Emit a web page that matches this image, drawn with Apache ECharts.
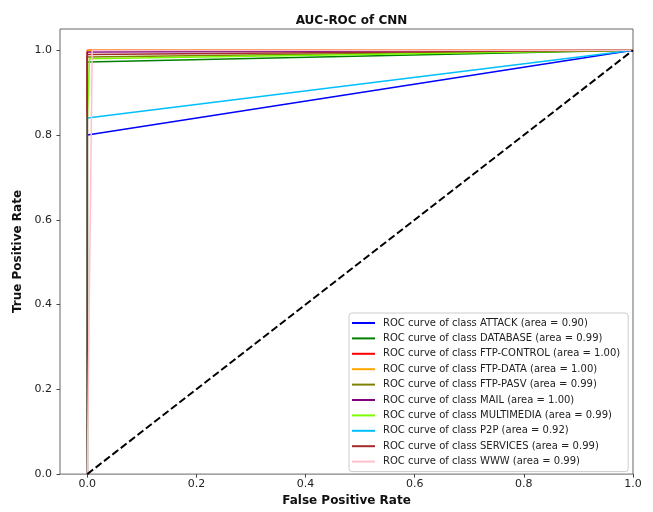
<!DOCTYPE html>
<html>
<head>
<meta charset="utf-8">
<title>AUC-ROC of CNN</title>
<script src="https://cdn.jsdelivr.net/npm/echarts@6/dist/echarts.min.js"></script>
<style>
  html, body { margin: 0; padding: 0; background: #fff; }
  #chart { width: 653px; height: 512px; }
</style>
</head>
<body>
<div id="chart"></div>
<script>
// Traffic classes and their one-vs-rest ROC results
const classNames = ['ATTACK', 'DATABASE', 'FTP-CONTROL', 'FTP-DATA', 'FTP-PASV',
                    'MAIL', 'MULTIMEDIA', 'P2P', 'SERVICES', 'WWW'];
const aucValues = [0.90, 0.99, 1.00, 1.00, 0.99, 1.00, 0.99, 0.92, 0.99, 0.99];
const classColors = ['#0000ff', '#008000', '#ff0000', '#ffa500', '#808000',
                     '#800080', '#7cfc00', '#00bfff', '#a52a2a', '#ffc0cb'];

// False positive rate points for each class curve
const rocFpr = [
  [0, 0, 1],
  [0, 0, 1],
  [0, 0, 1],
  [0, 0, 1],
  [0, 0, 1],
  [0, 0, 1],
  [0, 0, 0.004, 1],
  [0, 0, 1],
  [0, 0, 1],
  [0, 0.009, 1]
];
// True positive rate points for each class curve
const rocTpr = [
  [0, 0.80, 1],
  [0, 0.972, 1],
  [0, 1.0, 1],
  [0, 1.0, 1],
  [0, 0.984, 1],
  [0, 0.996, 1],
  [0, 0.83, 0.98, 1],
  [0, 0.84, 1],
  [0, 0.99, 1],
  [0, 0.999, 1]
];
// Chance diagonal
const chanceFpr = [0, 1];
const chanceTpr = [0, 1];

const tickValues = [0, 0.2, 0.4, 0.6, 0.8, 1.0];

const FONT = 'DejaVu Sans';

function pairs(xs, ys) {
  return xs.map((x, i) => [x, ys[i]]);
}

const legendNames = classNames.map((c, i) =>
  'ROC curve of class ' + c + ' (area = ' + aucValues[i].toFixed(2) + ')');

const series = classNames.map((c, i) => ({
  name: legendNames[i],
  type: 'line',
  data: pairs(rocFpr[i], rocTpr[i]),
  symbol: 'none',
  showSymbol: false,
  lineStyle: { color: classColors[i], width: 1.5 },
  itemStyle: { color: classColors[i] },
  z: 2 + i
}));

series.push({
  name: 'chance',
  type: 'line',
  data: pairs(chanceFpr, chanceTpr),
  symbol: 'none',
  showSymbol: false,
  lineStyle: { color: '#000', width: 2, type: [7.4, 3.2] },
  z: 20
});

const axisCommon = {
  type: 'value',
  splitLine: { show: false },
  axisLine: { show: false, onZero: false },
  axisTick: { show: true, length: 3.5, lineStyle: { color: '#444' }, customValues: tickValues },
  axisLabel: {
    customValues: tickValues,
    formatter: v => v.toFixed(1),
    color: '#222',
    fontFamily: FONT,
    fontSize: 11
  },
  nameLocation: 'middle',
  nameTextStyle: { fontFamily: FONT, fontSize: 12, fontWeight: 'bold', color: '#111' }
};

const chart = echarts.init(document.getElementById('chart'), null, { renderer: 'canvas' });
chart.setOption({
  animation: false,
  backgroundColor: '#fff',
  title: {
    text: 'AUC-ROC of CNN',
    left: 346.5,
    textAlign: 'center',
    top: 10,
    textStyle: { fontFamily: FONT, fontSize: 12, fontWeight: 'bold', color: '#111' }
  },
  grid: {
    left: 60, right: 20, top: 29, bottom: 35,
    show: true, borderColor: '#666', borderWidth: 1, backgroundColor: 'transparent'
  },
  xAxis: Object.assign({}, axisCommon, {
    min: -0.05, max: 1.0,
    name: 'False Positive Rate',
    nameGap: 20,
    axisLabel: Object.assign({}, axisCommon.axisLabel, { margin: 5 })
  }),
  yAxis: Object.assign({}, axisCommon, {
    min: 0, max: 1.05,
    name: 'True Positive Rate',
    nameGap: 31,
    axisLabel: Object.assign({}, axisCommon.axisLabel, { margin: 8 })
  }),
  legend: {
    data: legendNames,
    orient: 'vertical',
    left: 349,
    top: 313,
    padding: [4, 8, 4, 3],
    itemWidth: 23,
    itemHeight: 2,
    itemGap: 3.4,
    icon: 'rect',
    selectedMode: false,
    backgroundColor: '#fff',
    borderColor: '#ccc',
    borderWidth: 1,
    borderRadius: 3,
    textStyle: { fontFamily: FONT, fontSize: 10, lineHeight: 12, color: '#222', padding: [0, 0, 0, 3] }
  },
  series: series
});
</script>
</body>
</html>
